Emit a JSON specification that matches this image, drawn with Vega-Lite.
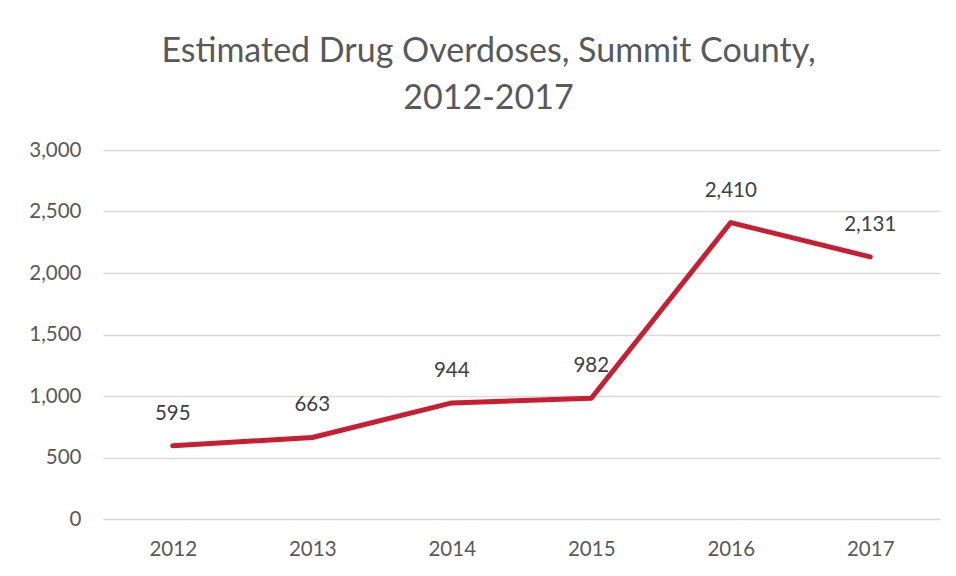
{
  "$schema": "https://vega.github.io/schema/vega-lite/v6.json",
  "width": 837,
  "height": 369,
  "autosize": {"type": "none"},
  "padding": {"left": 103, "top": 150, "right": 16, "bottom": 57},
  "background": "white",
  "title": {
    "text": ["Estimated Drug Overdoses, Summit County,", "2012-2017"],
    "fontSize": 34,
    "font": "Lato",
    "fontWeight": "normal",
    "color": "#595959",
    "anchor": "middle",
    "dx": -33,
    "offset": 24,
    "lineHeight": 47
  },
  "data": {
    "values": [
      {"year": "2012", "overdoses": 595},
      {"year": "2013", "overdoses": 663},
      {"year": "2014", "overdoses": 944},
      {"year": "2015", "overdoses": 982},
      {"year": "2016", "overdoses": 2410},
      {"year": "2017", "overdoses": 2131}
    ]
  },
  "encoding": {
    "x": {
      "field": "year",
      "type": "ordinal",
      "scale": {"type": "point", "padding": 0.5},
      "axis": {
        "title": null,
        "labelAngle": 0,
        "labelFont": "Lato",
        "labelFontSize": 20.5,
        "labelColor": "#595959",
        "labelPadding": 20,
        "domain": false,
        "ticks": false,
        "grid": false
      }
    },
    "y": {
      "field": "overdoses",
      "type": "quantitative",
      "scale": {"domain": [0, 3000]},
      "axis": {
        "title": null,
        "values": [0, 500, 1000, 1500, 2000, 2500, 3000],
        "format": ",.0f",
        "labelFont": "Lato",
        "labelFontSize": 20.5,
        "labelColor": "#595959",
        "labelPadding": 22,
        "domain": false,
        "ticks": false,
        "grid": true,
        "gridColor": "#d9d9d9",
        "gridWidth": 1.5
      }
    }
  },
  "layer": [
    {
      "mark": {"type": "line", "color": "#c81e32", "strokeWidth": 5, "strokeCap": "round", "strokeJoin": "round"}
    },
    {
      "mark": {"type": "text", "font": "Lato", "fontSize": 20.5, "color": "#404040", "dy": -32, "baseline": "middle"},
      "encoding": {"text": {"field": "overdoses", "type": "quantitative", "format": ",.0f"}}
    }
  ],
  "config": {"view": {"stroke": null}}
}
